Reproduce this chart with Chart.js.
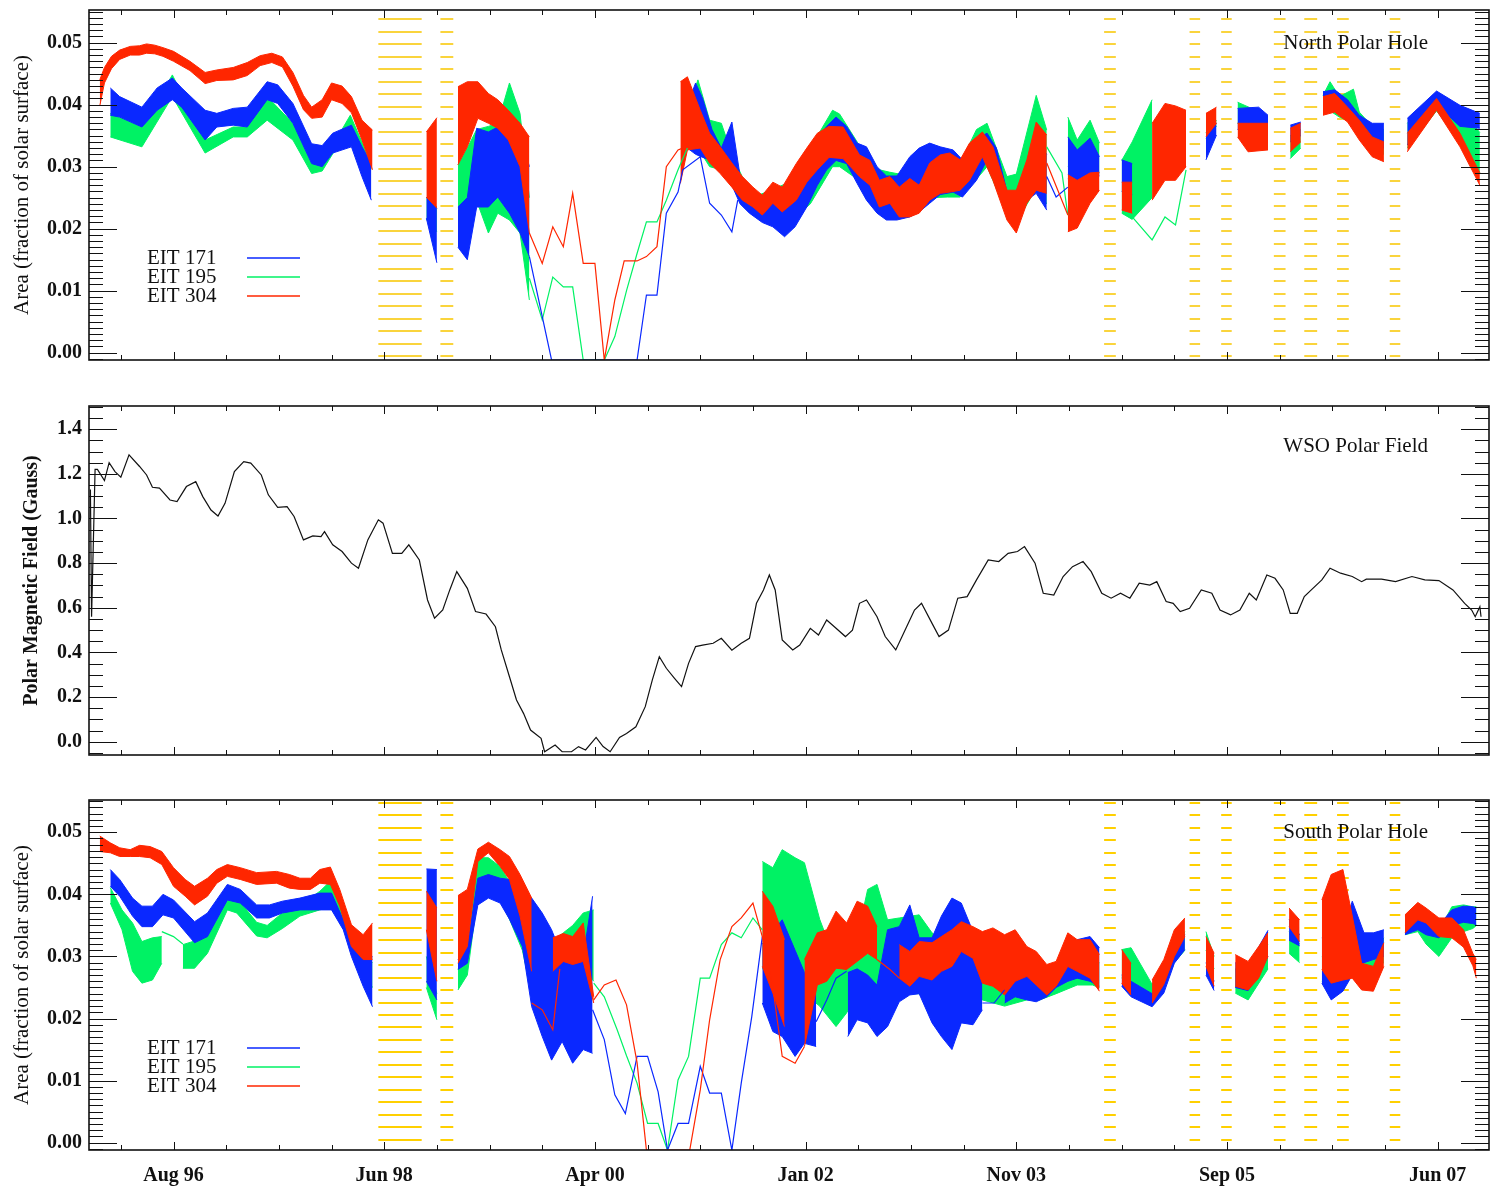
<!DOCTYPE html>
<html>
<head>
<meta charset="utf-8">
<title>Polar coronal hole area and WSO polar field</title>
<script src="https://cdn.jsdelivr.net/npm/chart.js@4.4.0/dist/chart.umd.min.js"></script>
<style>
  html, body { margin: 0; padding: 0; background: #fff; }
  body { width: 1499px; height: 1196px; position: relative; overflow: hidden; }
  canvas { position: absolute; left: 0; }
</style>
</head>
<body>
<canvas id="north" width="1499" height="380" style="top:0px"></canvas>
<canvas id="field" width="1499" height="390" style="top:390px"></canvas>
<canvas id="south" width="1499" height="411" style="top:785px"></canvas>
<script>
// ---- axes -----------------------------------------------------------------
// time in decimal years
var xMin = 1995.878, xMax = 2007.838;
var xTickValues = [1996.6, 1998.4, 2000.2, 2002.0, 2003.8, 2005.6, 2007.4];
var xTickLabels = ['Aug 96', 'Jun 98', 'Apr 00', 'Jan 02', 'Nov 03', 'Sep 05', 'Jun 07'];
var xMinorStep = 0.45;

// hole area in units of 0.001 of the solar surface
var areaTickValues = [0, 10, 20, 30, 40, 50];
var areaTickLabels = ['0.00', '0.01', '0.02', '0.03', '0.04', '0.05'];
var fieldTickValues = [0, 0.2, 0.4, 0.6, 0.8, 1.0, 1.2, 1.4];
var fieldTickLabels = ['0.0', '0.2', '0.4', '0.6', '0.8', '1.0', '1.2', '1.4'];

var legendLabels = ['EIT 171', 'EIT 195', 'EIT 304'];

// periods without EIT data [start, end]
var gaps = [[1998.35, 1998.72], [1998.88, 1998.99], [2004.55, 2004.65], [2005.28, 2005.37],
            [2005.55, 2005.64], [2006.00, 2006.10], [2006.26, 2006.37], [2006.54, 2006.64],
            [2006.99, 2007.08]];

// ---- north hole: [time, low, high] ranges (null = no data) ---------------------
var north304 = [
  [1995.97, 39.8, 44.0], [1996.01, 43.5, 46.0], [1996.07, 45.8, 47.8], [1996.14, 47.3, 48.8],
  [1996.23, 48.0, 49.4], [1996.31, 48.0, 49.5], [1996.37, 48.3, 49.8], [1996.44, 48.2, 49.6],
  [1996.51, 47.8, 49.2], [1996.60, 47.0, 48.6], [1996.74, 45.5, 47.0], [1996.87, 43.4, 45.2],
  [1996.97, 43.9, 45.6], [1997.11, 44.0, 46.0], [1997.23, 44.7, 46.8], [1997.34, 46.3, 47.9],
  [1997.44, 46.8, 48.3], [1997.53, 46.1, 47.7], [1997.62, 43.0, 45.2], [1997.71, 39.2, 41.5],
  [1997.78, 37.8, 39.6], [1997.87, 38.0, 40.8], [1997.95, 40.8, 43.5], [1998.04, 40.2, 43.0],
  [1998.12, 38.7, 41.3], [1998.21, 34.3, 37.5], [1998.30, 29.5, 35.9],
  null,
  [1998.76, 25.1, 35.6], [1998.85, 23.3, 37.9],
  null,
  [1999.03, 30.3, 42.9], [1999.11, 33.2, 43.7], [1999.20, 37.8, 43.7], [1999.29, 37.0, 41.8],
  [1999.37, 36.2, 40.8], [1999.46, 34.3, 39.1], [1999.56, 30.0, 37.0], [1999.64, 19.3, 34.8],
  null,
  [2000.93, 27.3, 43.7], [2000.99, 32.7, 44.5], [2001.10, 33.0, 39.1], [2001.18, 30.6, 35.4],
  [2001.27, 28.9, 33.2], [2001.37, 26.7, 30.6], [2001.46, 24.6, 28.4], [2001.55, 23.5, 26.7],
  [2001.63, 22.2, 25.4], [2001.72, 24.1, 27.5], [2001.80, 22.7, 26.7], [2001.92, 24.6, 30.5],
  [2002.01, 27.5, 33.0], [2002.10, 29.5, 35.4], [2002.20, 31.5, 36.5], [2002.32, 31.3, 36.4],
  [2002.46, 28.4, 31.9], [2002.55, 27.0, 31.0], [2002.63, 23.5, 27.8], [2002.72, 24.1, 28.4],
  [2002.80, 21.9, 26.7], [2002.89, 21.9, 28.1], [2002.97, 22.5, 27.0], [2003.06, 24.6, 30.6],
  [2003.15, 25.7, 31.9], [2003.23, 25.9, 32.2], [2003.32, 26.2, 31.1], [2003.40, 27.8, 33.8],
  [2003.51, 31.6, 35.6], [2003.60, 27.8, 33.2], [2003.72, 21.4, 26.2], [2003.80, 19.3, 26.2],
  [2003.89, 24.1, 31.1], [2003.97, 26.2, 37.2], [2004.06, 25.7, 35.1],
  null,
  [2004.24, 19.5, 28.7], [2004.32, 20.1, 27.8], [2004.43, 24.1, 29.0], [2004.51, 26.2, 29.1],
  null,
  [2004.70, 23.0, 27.5], [2004.79, 22.5, 27.5],
  null,
  [2004.96, 24.6, 37.0], [2005.07, 27.8, 40.2], [2005.16, 27.8, 39.8], [2005.25, 30.0, 39.1],
  null,
  [2005.42, 34.8, 38.6], [2005.51, 37.0, 39.6],
  null,
  [2005.69, 34.8, 37.0], [2005.78, 32.4, 37.0], [2005.95, 32.7, 37.0],
  null,
  [2006.14, 32.4, 36.2], [2006.23, 34.0, 37.0],
  null,
  [2006.42, 38.3, 41.3], [2006.52, 38.8, 41.8], [2006.63, 37.2, 39.6], [2006.73, 34.3, 37.5],
  [2006.84, 31.6, 34.8], [2006.94, 30.8, 34.0],
  null,
  [2007.14, 32.4, 35.4], [2007.39, 39.1, 41.0], [2007.59, 33.2, 35.4], [2007.76, 27.0, 29.0]
];

var north171 = [
  [1996.06, 38.3, 42.7], [1996.14, 38.0, 41.3], [1996.33, 36.4, 39.6], [1996.46, 39.1, 42.7],
  [1996.59, 40.8, 44.3], [1996.67, 39.6, 42.7], [1996.87, 34.3, 39.1], [1996.97, 36.4, 38.6],
  [1997.11, 36.7, 39.4], [1997.23, 36.4, 39.6], [1997.40, 40.8, 43.7], [1997.49, 40.2, 43.2],
  [1997.62, 37.0, 40.2], [1997.78, 30.5, 33.7], [1997.87, 30.0, 33.4], [1997.96, 32.2, 35.4],
  [1998.12, 33.2, 36.7], [1998.21, 28.4, 33.2], [1998.29, 24.6, 30.5],
  null,
  [1998.76, 21.7, 25.1], [1998.85, 14.5, 23.3],
  null,
  [1999.03, 17.0, 23.5], [1999.11, 15.0, 25.0], [1999.19, 23.5, 36.2], [1999.29, 23.5, 35.6],
  [1999.37, 25.1, 36.4], [1999.47, 22.5, 38.0], [1999.56, 19.3, 36.0], [1999.64, 15.5, 30.0],
  null,
  [2000.99, 33.0, 40.0], [2001.06, 32.0, 43.5], [2001.12, 31.5, 41.0], [2001.20, 31.0, 36.0],
  [2001.28, 29.0, 33.0], [2001.37, 27.0, 37.2], [2001.44, 24.0, 28.5], [2001.52, 22.5, 26.5],
  [2001.63, 21.0, 25.0], [2001.72, 20.3, 26.0], [2001.82, 18.7, 25.5], [2001.91, 20.3, 28.5],
  [2002.01, 23.5, 32.0], [2002.10, 27.0, 34.5], [2002.18, 29.5, 36.5], [2002.26, 31.0, 38.0],
  [2002.35, 30.5, 36.5], [2002.44, 27.3, 33.8], [2002.52, 24.6, 33.2], [2002.61, 22.5, 30.0],
  [2002.69, 21.4, 28.5], [2002.78, 21.4, 28.5], [2002.89, 21.9, 31.6], [2002.97, 22.7, 33.0],
  [2003.06, 24.1, 33.8], [2003.15, 25.5, 33.2], [2003.26, 25.9, 32.7], [2003.34, 25.1, 31.1],
  [2003.46, 27.8, 34.5], [2003.55, 31.1, 35.4], [2003.63, 27.8, 33.0], [2003.72, 21.9, 26.0],
  [2003.80, 20.3, 25.0], [2003.89, 24.6, 30.0], [2003.97, 25.7, 34.0], [2004.06, 23.0, 32.0],
  null,
  [2004.24, 28.0, 34.8], [2004.32, 27.0, 32.7], [2004.43, 28.5, 34.6], [2004.51, 28.5, 31.6],
  null,
  [2004.70, 26.0, 31.1], [2004.79, 25.5, 30.5],
  null,
  [2005.42, 31.1, 35.4], [2005.51, 35.1, 37.0],
  null,
  [2005.69, 36.0, 39.4], [2005.87, 36.0, 39.6], [2005.95, 35.0, 38.3],
  null,
  [2006.14, 34.0, 36.7], [2006.23, 35.0, 37.2],
  null,
  [2006.42, 39.0, 42.1], [2006.52, 39.5, 42.4], [2006.63, 38.0, 40.8], [2006.73, 35.5, 38.3],
  [2006.84, 33.5, 37.0], [2006.94, 33.0, 37.0],
  null,
  [2007.14, 33.5, 37.8], [2007.39, 40.0, 42.2], [2007.59, 36.5, 39.9], [2007.76, 36.2, 38.6]
];

var north195 = [
  [1996.06, 34.8, 38.6], [1996.33, 33.2, 36.4], [1996.59, 41.3, 44.8], [1996.87, 32.2, 34.3],
  [1997.11, 34.8, 36.4], [1997.23, 34.8, 36.4], [1997.40, 37.5, 41.3], [1997.62, 34.3, 37.0],
  [1997.78, 28.9, 30.5], [1997.87, 29.3, 30.5], [1998.11, 36.7, 38.3], [1998.29, 29.6, 30.5],
  null,
  [1998.76, 21.5, 25.0], [1998.85, 19.5, 23.5],
  null,
  [1999.03, 23.5, 30.3], [1999.11, 24.0, 33.0], [1999.19, 24.5, 36.0], [1999.29, 19.3, 36.5],
  [1999.37, 22.5, 37.0], [1999.47, 21.4, 43.5], [1999.56, 19.3, 38.6], [1999.64, 8.5, 25.0],
  null,
  [2000.99, 33.0, 39.0], [2001.08, 33.0, 44.0], [2001.18, 30.0, 37.5], [2001.28, 29.5, 37.0],
  [2001.37, 27.0, 32.0], [2001.48, 24.0, 27.5], [2001.61, 22.5, 25.5], [2001.74, 21.0, 26.5],
  [2001.86, 21.0, 27.5], [2002.04, 24.0, 33.0], [2002.23, 30.0, 39.1], [2002.29, 30.0, 38.5],
  [2002.44, 28.0, 34.0], [2002.55, 25.5, 29.0], [2002.63, 24.5, 29.5], [2002.72, 24.0, 29.1],
  [2002.89, 23.5, 28.5], [2003.06, 25.0, 31.5], [2003.21, 25.1, 32.5], [2003.32, 25.1, 30.5],
  [2003.46, 28.0, 36.0], [2003.55, 30.0, 37.0], [2003.72, 22.5, 28.4], [2003.80, 21.0, 28.8],
  [2003.97, 26.5, 41.5], [2004.06, 24.0, 35.9],
  null,
  [2004.24, 30.0, 38.0], [2004.32, 29.0, 34.3], [2004.43, 30.0, 37.5], [2004.51, 29.0, 33.8],
  null,
  [2004.70, 22.5, 31.0], [2004.79, 21.5, 34.0], [2004.96, 25.0, 40.8],
  null,
  [2005.42, 34.5, 35.5], [2005.51, 36.5, 37.5],
  null,
  [2005.69, 37.0, 40.4], [2005.81, 37.0, 39.4], [2005.95, 36.0, 37.5],
  null,
  [2006.14, 31.3, 35.0], [2006.23, 33.0, 36.0],
  null,
  [2006.42, 39.0, 41.5], [2006.48, 39.0, 43.7], [2006.56, 38.0, 41.3], [2006.68, 37.0, 42.5],
  [2006.73, 35.0, 38.8], [2006.84, 33.0, 36.5], [2006.94, 32.0, 36.0],
  null,
  [2007.14, 33.0, 37.0], [2007.39, 39.0, 42.0], [2007.59, 34.0, 39.5], [2007.76, 29.0, 35.5]
];

// single-value traces seen between the ranges: [time, value]
var north304Line = [
  [1999.64, 19.3], [1999.75, 14.4], [1999.84, 20.3], [1999.93, 17.1], [2000.01, 25.7],
  [2000.10, 14.4], [2000.20, 14.4], [2000.28, -1.2], [2000.37, 8.5], [2000.45, 14.8],
  [2000.56, 14.8], [2000.64, 15.5], [2000.73, 17.1], [2000.81, 30.0], [2000.91, 32.7],
  [2000.95, 33.0],
  null,
  [2004.06, 30.6], [2004.24, 22.2]
];
var north171Line = [
  [1999.64, 15.5], [1999.83, -1.2], [2000.56, -1.2], [2000.64, 9.3], [2000.73, 9.3],
  [2000.81, 22.5], [2000.91, 25.9], [2000.95, 29.5], [2001.10, 31.6], [2001.18, 24.1],
  [2001.28, 22.2], [2001.37, 19.5], [2001.42, 24.6],
  null,
  [2004.06, 28.4], [2004.14, 25.1], [2004.24, 26.7]
];
var north195Line = [
  [1999.64, 12.0], [1999.75, 5.3], [1999.84, 12.2], [1999.93, 10.6], [2000.01, 10.6],
  [2000.10, -1.2], [2000.28, -1.2], [2000.37, 2.6], [2000.47, 10.0], [2000.56, 16.0],
  [2000.64, 21.1], [2000.73, 21.1], [2000.81, 24.6], [2000.91, 29.5], [2000.99, 33.0],
  null,
  [2004.06, 33.2], [2004.19, 29.0], [2004.24, 22.2],
  null,
  [2004.79, 21.9], [2004.96, 18.2], [2005.07, 21.9], [2005.16, 20.6], [2005.25, 29.5]
];

// ---- south hole --------------------------------------------------------------
var south304 = [
  [1995.97, 46.9, 49.4], [1996.06, 46.7, 48.3], [1996.14, 46.1, 47.5], [1996.23, 46.1, 47.2],
  [1996.31, 46.1, 47.9], [1996.40, 45.9, 47.7], [1996.50, 44.8, 46.9], [1996.60, 41.3, 44.3],
  [1996.70, 39.7, 42.4], [1996.78, 38.3, 41.3], [1996.89, 39.7, 42.6], [1996.97, 41.8, 44.0],
  [1997.06, 42.9, 44.8], [1997.17, 42.4, 44.3], [1997.31, 41.6, 43.5], [1997.48, 41.8, 43.7],
  [1997.59, 41.0, 43.2], [1997.68, 40.8, 42.6], [1997.77, 40.8, 42.6], [1997.85, 41.8, 44.0],
  [1997.94, 41.6, 44.4], [1998.02, 38.1, 40.8], [1998.12, 31.6, 35.1], [1998.22, 29.5, 33.5],
  [1998.30, 29.5, 35.4],
  null,
  [1998.76, 34.3, 40.5], [1998.85, 26.0, 37.8],
  null,
  [1999.03, 28.9, 39.8], [1999.11, 31.6, 40.8], [1999.20, 45.3, 47.3], [1999.29, 46.7, 48.4],
  [1999.39, 44.5, 47.2], [1999.47, 42.4, 46.1], [1999.56, 36.5, 43.2], [1999.66, 27.6, 39.4],
  null,
  [1999.84, 27.6, 33.0], [1999.93, 29.2, 33.7], [2000.01, 28.7, 33.2], [2000.10, 29.2, 35.4],
  [2000.19, 22.5, 23.5],
  null,
  [2001.63, 28.4, 40.5], [2001.72, 24.1, 38.1], [2001.82, 18.7, 32.7],
  null,
  [2001.99, 15.5, 29.5], [2002.10, 25.4, 33.8], [2002.18, 26.0, 34.3], [2002.26, 28.1, 37.3],
  [2002.35, 27.9, 35.4], [2002.44, 29.2, 38.9], [2002.53, 30.5, 38.1], [2002.61, 29.5, 34.8],
  null,
  [2002.80, 26.5, 31.9], [2002.89, 25.2, 30.8], [2002.97, 26.8, 32.4], [2003.08, 26.2, 32.2],
  [2003.16, 27.6, 33.2], [2003.25, 28.4, 34.3], [2003.33, 30.8, 35.6], [2003.43, 29.7, 34.8],
  [2003.51, 25.7, 34.0], [2003.60, 25.2, 34.6], [2003.70, 23.8, 33.5], [2003.79, 26.0, 34.3],
  [2003.89, 26.8, 31.6], [2003.97, 25.4, 30.8], [2004.06, 23.8, 28.7], [2004.14, 25.2, 29.2],
  [2004.24, 28.4, 33.8], [2004.32, 27.6, 32.7], [2004.43, 26.5, 32.7], [2004.51, 24.4, 30.3],
  null,
  [2004.70, 25.7, 31.1], [2004.78, 23.8, 28.9],
  null,
  [2004.96, 22.5, 26.2], [2005.06, 25.5, 29.5], [2005.15, 30.0, 34.3], [2005.24, 33.2, 36.2],
  null,
  [2005.42, 28.4, 33.2], [2005.49, 25.2, 30.5],
  null,
  [2005.67, 25.2, 30.3], [2005.78, 24.6, 29.2], [2005.87, 26.5, 31.6], [2005.95, 30.0, 33.8],
  null,
  [2006.13, 34.8, 37.8], [2006.22, 32.4, 35.9],
  null,
  [2006.41, 27.9, 39.1], [2006.49, 25.7, 43.2], [2006.59, 26.2, 44.0], [2006.67, 26.5, 36.5],
  [2006.75, 24.6, 28.9], [2006.85, 24.4, 28.4], [2006.94, 28.4, 32.2],
  null,
  [2007.12, 33.8, 36.7], [2007.23, 35.9, 38.7], [2007.30, 35.4, 37.8], [2007.41, 33.2, 36.2],
  [2007.52, 33.0, 36.2], [2007.62, 31.5, 34.3], [2007.70, 28.5, 30.5], [2007.73, 26.5, 29.5]
];

var south171 = [
  [1996.06, 41.3, 44.0], [1996.14, 39.7, 42.4], [1996.25, 36.5, 39.4], [1996.33, 34.8, 38.1],
  [1996.42, 34.8, 38.1], [1996.51, 36.7, 40.0], [1996.60, 36.2, 39.1], [1996.78, 32.2, 35.6],
  [1996.89, 33.2, 37.0], [1997.06, 39.1, 41.6], [1997.17, 38.6, 40.8], [1997.31, 36.2, 38.3],
  [1997.42, 36.2, 38.3], [1997.53, 37.0, 38.9], [1997.68, 37.5, 39.4], [1997.85, 37.5, 40.2],
  [1997.95, 37.5, 40.2], [1998.05, 34.3, 35.9], [1998.12, 30.0, 32.2], [1998.22, 25.2, 29.5],
  [1998.30, 21.9, 30.0],
  null,
  [1998.76, 26.0, 44.1], [1998.85, 23.0, 44.0],
  null,
  [1999.03, 27.9, 29.5], [1999.11, 28.9, 31.6], [1999.20, 38.3, 42.6], [1999.29, 39.4, 43.2],
  [1999.39, 38.6, 42.6], [1999.47, 36.0, 42.4], [1999.58, 31.6, 40.8], [1999.66, 21.9, 39.4],
  [1999.75, 17.1, 37.0], [1999.83, 13.3, 34.3], [1999.92, 16.3, 30.0], [2000.01, 12.8, 29.0],
  [2000.10, 15.0, 30.0], [2000.18, 14.4, 39.7],
  null,
  [2001.63, 22.5, 32.0], [2001.72, 17.9, 34.0], [2001.80, 17.1, 35.9], [2001.91, 13.9, 31.0],
  [2001.99, 16.0, 27.4], [2002.09, 15.5, 25.0],
  null,
  [2002.36, 17.1, 27.4], [2002.44, 19.8, 28.0], [2002.53, 19.3, 27.0], [2002.61, 17.1, 25.4],
  [2002.70, 18.7, 34.3], [2002.80, 22.7, 34.8], [2002.89, 23.8, 38.3], [2002.97, 24.0, 33.0],
  [2003.08, 19.3, 33.0], [2003.16, 17.1, 36.5], [2003.25, 15.0, 39.4], [2003.33, 19.3, 38.6],
  [2003.43, 19.0, 34.0], [2003.51, 21.4, 30.0],
  null,
  [2003.70, 22.5, 26.2], [2003.79, 23.5, 27.9], [2003.89, 23.0, 27.5], [2003.97, 22.7, 25.7],
  [2004.06, 23.5, 28.4], [2004.14, 25.0, 28.9], [2004.24, 26.0, 28.4], [2004.32, 26.5, 32.7],
  [2004.43, 26.0, 33.2], [2004.51, 25.2, 31.4],
  null,
  [2004.70, 25.2, 27.0], [2004.78, 23.5, 26.0], [2004.96, 21.9, 24.0], [2005.06, 24.1, 27.0],
  [2005.15, 28.9, 31.5], [2005.24, 31.1, 33.5],
  null,
  [2005.42, 27.0, 29.0], [2005.49, 24.5, 26.0],
  null,
  [2005.67, 25.0, 29.0], [2005.78, 24.5, 28.0], [2005.87, 27.0, 31.5], [2005.95, 30.0, 34.2],
  null,
  [2006.13, 32.6, 36.0], [2006.22, 31.7, 33.5],
  null,
  [2006.41, 25.7, 33.0], [2006.49, 23.0, 33.0], [2006.59, 24.4, 34.0], [2006.67, 27.0, 38.9],
  [2006.77, 29.0, 33.8], [2006.85, 29.5, 33.8], [2006.94, 30.0, 34.3],
  null,
  [2007.12, 33.5, 36.5], [2007.23, 34.3, 37.0], [2007.30, 33.5, 36.0], [2007.41, 33.0, 35.0],
  [2007.52, 35.0, 37.5], [2007.62, 35.5, 38.1], [2007.70, 35.3, 38.0], [2007.73, 35.1, 37.8]
];

var south195 = [
  [1996.06, 38.6, 41.1], [1996.16, 34.3, 37.5], [1996.25, 27.6, 35.4], [1996.33, 25.7, 32.4],
  [1996.42, 26.2, 33.0], [1996.50, 28.9, 33.2],
  null,
  [1996.68, 28.1, 31.9], [1996.78, 28.1, 32.5], [1996.89, 30.5, 35.0], [1997.06, 37.5, 40.0],
  [1997.14, 37.0, 39.5], [1997.31, 33.3, 35.5], [1997.40, 33.0, 35.0], [1997.53, 34.5, 37.0],
  [1997.68, 36.5, 38.2], [1997.85, 37.5, 40.5], [1997.95, 38.0, 42.3], [1998.05, 35.5, 38.0],
  [1998.12, 31.0, 33.0], [1998.30, 25.0, 29.0],
  null,
  [1998.76, 25.0, 30.0], [1998.85, 19.8, 24.0],
  null,
  [1999.03, 24.6, 27.9], [1999.11, 27.0, 31.5], [1999.20, 40.0, 45.9], [1999.29, 40.0, 45.9],
  [1999.39, 39.0, 44.5], [1999.47, 36.0, 42.0], [1999.58, 31.0, 39.0], [1999.66, 24.0, 33.0],
  null,
  [1999.84, 29.0, 32.5], [1999.93, 27.0, 33.8], [2000.01, 26.0, 35.0], [2000.10, 28.0, 37.0],
  [2000.19, 26.0, 37.5],
  null,
  [2001.63, 28.0, 45.3], [2001.72, 27.0, 44.3], [2001.80, 26.0, 47.2], [2001.91, 25.0, 45.9],
  [2001.99, 24.0, 45.1], [2002.12, 22.0, 36.0], [2002.26, 18.7, 29.0], [2002.35, 20.9, 29.0],
  [2002.44, 24.0, 33.0], [2002.53, 26.0, 40.8], [2002.61, 25.0, 41.6], [2002.70, 24.0, 35.9],
  [2002.80, 24.0, 36.2], [2002.97, 24.0, 36.7], [2003.08, 24.0, 33.8], [2003.25, 23.0, 31.0],
  [2003.51, 23.0, 31.0], [2003.70, 22.0, 29.0], [2003.89, 23.0, 28.0], [2004.00, 23.0, 28.0],
  [2004.14, 24.0, 29.0], [2004.32, 25.4, 31.0], [2004.45, 25.4, 30.0], [2004.51, 25.0, 29.0],
  null,
  [2004.70, 26.5, 31.1], [2004.78, 25.0, 31.4], [2004.96, 22.5, 25.5], [2005.06, 25.0, 28.0],
  [2005.15, 29.0, 31.5], [2005.24, 31.0, 34.0],
  null,
  [2005.42, 31.0, 34.0], [2005.49, 28.0, 30.0],
  null,
  [2005.67, 24.1, 28.0], [2005.78, 23.0, 27.0], [2005.95, 28.0, 32.0],
  null,
  [2006.13, 30.5, 34.0], [2006.22, 29.0, 32.0],
  null,
  [2006.41, 26.0, 30.0], [2006.67, 28.0, 33.0], [2006.77, 28.0, 30.0], [2006.85, 28.0, 30.0],
  [2006.94, 29.0, 33.0],
  null,
  [2007.12, 33.5, 35.0], [2007.23, 34.0, 36.0], [2007.30, 32.0, 35.0], [2007.41, 30.0, 34.0],
  [2007.52, 33.0, 38.0], [2007.62, 34.0, 38.3], [2007.70, 34.5, 38.0], [2007.73, 35.0, 38.0]
];

var south304Line = [
  [1999.66, 22.5], [1999.75, 21.4], [1999.84, 18.2], [1999.90, 28.0],
  null,
  [2000.19, 23.0], [2000.28, 25.4], [2000.38, 26.2], [2000.47, 22.2], [2000.56, 12.9],
  [2000.64, -1.2], [2001.01, -1.2], [2001.10, 8.5], [2001.18, 19.8], [2001.27, 29.5],
  [2001.37, 34.8], [2001.45, 36.2], [2001.55, 38.6], [2001.63, 33.2], [2001.72, 25.0],
  [2001.80, 13.9], [2001.91, 12.8], [2001.99, 15.5],
  null,
  [2002.61, 29.5], [2002.72, 27.9], [2002.80, 26.5]
];
var south171Line = [
  [2000.18, 21.4], [2000.28, 16.6], [2000.37, 7.7], [2000.46, 4.7], [2000.56, 13.9],
  [2000.65, 13.9], [2000.74, 8.2], [2000.82, -1.2], [2000.91, 3.1], [2001.00, 3.1],
  [2001.10, 12.3], [2001.18, 8.0], [2001.28, 8.0], [2001.37, -1.2], [2001.45, 9.6],
  [2001.54, 20.3], [2001.63, 33.2],
  null,
  [2002.09, 19.5], [2002.18, 23.0], [2002.26, 26.5], [2002.35, 27.6],
  null,
  [2003.51, 22.5], [2003.61, 22.5], [2003.70, 24.6]
];
var south195Line = [
  [1996.50, 34.0], [1996.60, 33.2], [1996.68, 32.0],
  null,
  [2000.19, 25.7], [2000.28, 23.5], [2000.39, 18.2], [2000.47, 14.0], [2000.56, 9.6],
  [2000.65, 3.1], [2000.74, 3.1], [2000.82, -1.2], [2000.91, 10.1], [2001.00, 13.9],
  [2001.10, 26.5], [2001.18, 26.5], [2001.28, 31.9], [2001.37, 33.8], [2001.45, 33.0],
  [2001.55, 36.2], [2001.63, 34.3]
];

// ---- WSO polar field (Gauss): [time, value] -----------------------------------
var wsoField = [
  [1995.89, 1.13], [1995.90, 0.56], [1995.93, 1.22], [1995.95, 1.22], [1996.01, 1.17],
  [1996.05, 1.25], [1996.10, 1.21], [1996.15, 1.185], [1996.22, 1.285], [1996.31, 1.233],
  [1996.37, 1.195], [1996.42, 1.14], [1996.48, 1.136], [1996.57, 1.083], [1996.63, 1.076],
  [1996.71, 1.143], [1996.79, 1.165], [1996.85, 1.098], [1996.92, 1.038], [1996.98, 1.011],
  [1997.04, 1.068], [1997.12, 1.21], [1997.20, 1.255], [1997.26, 1.248], [1997.35, 1.195],
  [1997.41, 1.106], [1997.49, 1.05], [1997.57, 1.053], [1997.63, 1.009], [1997.71, 0.904],
  [1997.79, 0.922], [1997.86, 0.919], [1997.89, 0.941], [1997.96, 0.882], [1998.04, 0.852],
  [1998.12, 0.80], [1998.18, 0.777], [1998.26, 0.904], [1998.35, 0.994], [1998.39, 0.979],
  [1998.47, 0.844], [1998.55, 0.844], [1998.61, 0.882], [1998.70, 0.814], [1998.77, 0.635],
  [1998.83, 0.553], [1998.90, 0.59], [1998.96, 0.68], [1999.02, 0.762], [1999.11, 0.687],
  [1999.18, 0.583], [1999.27, 0.572], [1999.35, 0.515], [1999.40, 0.411], [1999.47, 0.291],
  [1999.53, 0.187], [1999.59, 0.127], [1999.65, 0.052], [1999.74, 0.015], [1999.77, -0.045],
  [1999.86, -0.015], [1999.92, -0.045], [2000.00, -0.045], [2000.06, -0.022], [2000.12, -0.037],
  [2000.21, 0.019], [2000.27, -0.022], [2000.33, -0.045], [2000.41, 0.019], [2000.47, 0.037],
  [2000.55, 0.067], [2000.63, 0.157], [2000.69, 0.276], [2000.75, 0.381], [2000.81, 0.329],
  [2000.88, 0.284], [2000.94, 0.247], [2001.00, 0.351], [2001.06, 0.426], [2001.12, 0.433],
  [2001.21, 0.441], [2001.28, 0.463], [2001.37, 0.41], [2001.45, 0.441], [2001.52, 0.463],
  [2001.58, 0.62], [2001.64, 0.68], [2001.69, 0.747], [2001.74, 0.68], [2001.80, 0.456],
  [2001.89, 0.411], [2001.95, 0.433], [2002.04, 0.508], [2002.11, 0.478], [2002.18, 0.545],
  [2002.26, 0.508], [2002.34, 0.471], [2002.40, 0.50], [2002.46, 0.62], [2002.52, 0.635],
  [2002.61, 0.56], [2002.68, 0.471], [2002.77, 0.411], [2002.85, 0.50], [2002.93, 0.59],
  [2002.99, 0.62], [2003.08, 0.53], [2003.14, 0.471], [2003.22, 0.50], [2003.30, 0.643],
  [2003.38, 0.65], [2003.46, 0.725], [2003.56, 0.814], [2003.65, 0.807], [2003.73, 0.844],
  [2003.81, 0.852], [2003.87, 0.874], [2003.96, 0.80], [2004.03, 0.665], [2004.12, 0.657],
  [2004.20, 0.74], [2004.28, 0.784], [2004.37, 0.807], [2004.44, 0.762], [2004.53, 0.665],
  [2004.61, 0.643], [2004.69, 0.665], [2004.77, 0.643], [2004.85, 0.71], [2004.94, 0.702],
  [2005.00, 0.717], [2005.08, 0.628], [2005.14, 0.62], [2005.20, 0.583], [2005.28, 0.598],
  [2005.38, 0.68], [2005.47, 0.665], [2005.54, 0.59], [2005.63, 0.568], [2005.71, 0.59],
  [2005.79, 0.665], [2005.85, 0.635], [2005.94, 0.747], [2006.01, 0.732], [2006.08, 0.68],
  [2006.14, 0.575], [2006.20, 0.575], [2006.26, 0.65], [2006.32, 0.68], [2006.41, 0.725],
  [2006.48, 0.777], [2006.57, 0.755], [2006.67, 0.74], [2006.75, 0.717], [2006.79, 0.728],
  [2006.92, 0.728], [2007.04, 0.717], [2007.18, 0.74], [2007.29, 0.725], [2007.41, 0.722],
  [2007.53, 0.68], [2007.63, 0.62], [2007.69, 0.59], [2007.72, 0.56], [2007.76, 0.605],
  [2007.77, 0.56]
];

// ---- drawing ------------------------------------------------------------------
var FONT = '"Liberation Serif", "Times New Roman", Times, serif';
var INK = '#111';
var BLUE = 'rgb(10,40,255)';
var GREEN = 'rgb(0,242,100)';
var RED = 'rgb(255,38,0)';

function toXY(rows, k) {
  var last = null;
  return rows.map(function (r) {
    if (r === null) return { x: last, y: null };
    last = r[0];
    return { x: r[0], y: r[k] };
  });
}

function lineSet(data, color, width, fill) {
  return {
    data: data, borderColor: color, backgroundColor: color, borderWidth: width,
    pointRadius: 0, tension: 0, spanGaps: false, fill: fill
  };
}

// hatched columns for the data gaps
var gapPlugin = {
  id: 'gaps',
  beforeDatasetsDraw: function (chart, args, o) {
    if (!o.show) return;
    var ctx = chart.ctx, a = chart.chartArea, x = chart.scales.x;
    ctx.save();
    ctx.strokeStyle = o.color;
    ctx.lineWidth = 2;
    ctx.beginPath();
    gaps.forEach(function (g) {
      var x0 = x.getPixelForValue(g[0]), x1 = x.getPixelForValue(g[1]);
      for (var py = a.top + o.start; py < a.bottom - 2; py += 12.47) {
        ctx.moveTo(x0, Math.round(py)); ctx.lineTo(x1, Math.round(py));
      }
    });
    ctx.stroke();
    ctx.restore();
  }
};

// box with inward ticks on all four sides
var framePlugin = {
  id: 'frame',
  afterDatasetsDraw: function (chart, args, o) {
    var ctx = chart.ctx, a = chart.chartArea, x = chart.scales.x, y = chart.scales.y;
    ctx.save();
    ctx.strokeStyle = INK;
    ctx.lineWidth = 1;
    ctx.beginPath();
    for (var k = -4; k < 40; k++) {
      var v = xTickValues[0] + k * xMinorStep;
      if (v < xMin || v > xMax) continue;
      var major = k % 4 === 0;
      var px = Math.round(x.getPixelForValue(v)) + 0.5;
      var len = major ? 8 : 5;
      ctx.moveTo(px, a.bottom); ctx.lineTo(px, a.bottom - len);
      ctx.moveTo(px, a.top); ctx.lineTo(px, a.top + len);
    }
    for (var i = Math.ceil(y.min / o.minor); i * o.minor <= y.max + 1e-9; i++) {
      var yv = i * o.minor;
      var isMajor = o.majors.some(function (t) { return Math.abs(t - yv) < 1e-6; });
      var py = Math.round(y.getPixelForValue(yv)) + 0.5;
      var l = isMajor ? 28 : 14;
      ctx.moveTo(a.left, py); ctx.lineTo(a.left + l, py);
      ctx.moveTo(a.right, py); ctx.lineTo(a.right - l, py);
    }
    ctx.stroke();
    ctx.lineWidth = 1.6;
    ctx.strokeRect(a.left, a.top, a.right - a.left, a.bottom - a.top);
    ctx.restore();
  }
};

var notesPlugin = {
  id: 'notes',
  afterDraw: function (chart, args, o) {
    var ctx = chart.ctx, a = chart.chartArea;
    ctx.save();
    ctx.fillStyle = INK;
    ctx.font = '21px ' + FONT;
    ctx.textBaseline = 'middle';
    if (o.name) {
      ctx.textAlign = 'right';
      ctx.fillText(o.name, a.right - 61, a.top + o.nameDy);
    }
    if (o.legend) {
      var colors = [BLUE, GREEN, RED];
      legendLabels.forEach(function (label, i) {
        var yy = a.top + 248 + i * 19;
        ctx.textAlign = 'left';
        ctx.fillText(label, a.left + 58, yy);
        ctx.strokeStyle = colors[i];
        ctx.lineWidth = 1.5;
        ctx.beginPath();
        ctx.moveTo(a.left + 158, yy); ctx.lineTo(a.left + 211, yy);
        ctx.stroke();
      });
    }
    ctx.restore();
  }
};

function makeChart(id, datasets, p) {
  return new Chart(document.getElementById(id), {
    type: 'line',
    data: { datasets: datasets },
    options: {
      responsive: false,
      animation: false,
      devicePixelRatio: 1,
      layout: { padding: { top: p.padTop, right: 10, left: 0, bottom: 0 } },
      plugins: {
        legend: { display: false },
        tooltip: { enabled: false },
        gaps: { show: p.gaps, start: p.gapStart, color: p.gapColor },
        frame: { minor: p.yMinor, majors: p.yTicks },
        notes: { name: p.name, nameDy: p.nameDy, legend: p.legend }
      },
      scales: {
        x: {
          type: 'linear', min: xMin, max: xMax,
          grid: { display: false, drawTicks: false },
          border: { display: false },
          afterBuildTicks: function (s) { s.ticks = xTickValues.map(function (v) { return { value: v }; }); },
          ticks: {
            display: p.xLabels, autoSkip: false, maxRotation: 0, padding: 14, color: INK,
            font: { family: FONT, size: 20, weight: 'bold' },
            callback: function (v) { return xTickLabels[xTickValues.indexOf(v)]; }
          },
          afterFit: function (s) { s.height = p.xAxisH; s.paddingLeft = 0; s.paddingRight = 0; }
        },
        y: {
          type: 'linear', min: p.yMin, max: p.yMax,
          grid: { display: false, drawTicks: false },
          border: { display: false },
          afterBuildTicks: function (s) { s.ticks = p.yTicks.map(function (v) { return { value: v }; }); },
          ticks: {
            padding: 7, color: INK,
            font: { family: FONT, size: 20, weight: 'bold' },
            callback: function (v) { return p.yLabels[p.yTicks.indexOf(v)]; }
          },
          title: {
            display: true, text: p.title, color: INK,
            font: { family: FONT, size: p.titleSize, weight: p.titleWeight },
            padding: { top: p.titlePad, bottom: 0 }
          },
          afterFit: function (s) { s.width = 89; s.paddingTop = 0; s.paddingBottom = 0; }
        }
      }
    },
    plugins: [gapPlugin, framePlugin, notesPlugin]
  });
}

function holeSets(r304, r171, r195, l304, l171, l195) {
  return [
    lineSet(toXY(l304, 1), RED, 1.2, false),
    lineSet(toXY(l171, 1), BLUE, 1.2, false),
    lineSet(toXY(l195, 1), GREEN, 1.2, false),
    lineSet(toXY(r304, 2), RED, 1, '+1'),
    lineSet(toXY(r304, 1), RED, 1, false),
    lineSet(toXY(r171, 2), BLUE, 1, '+1'),
    lineSet(toXY(r171, 1), BLUE, 1, false),
    lineSet(toXY(r195, 2), GREEN, 1, '+1'),
    lineSet(toXY(r195, 1), GREEN, 1, false)
  ];
}

makeChart('north', holeSets(north304, north171, north195, north304Line, north171Line, north195Line), {
  padTop: 10, xAxisH: 20, xLabels: false,
  yMin: -1.178, yMax: 55.27, yTicks: areaTickValues, yLabels: areaTickLabels, yMinor: 1,
  title: 'Area (fraction of solar surface)', titleSize: 21, titleWeight: 'normal', titlePad: 10,
  gaps: true, gapStart: 9.3, gapColor: 'rgb(250,212,60)',
  name: 'North Polar Hole', nameDy: 33, legend: true
});

makeChart('field', [lineSet(toXY(wsoField, 1), '#111', 1.2, false)], {
  padTop: 16, xAxisH: 25, xLabels: false,
  yMin: -0.0596, yMax: 1.504, yTicks: fieldTickValues, yLabels: fieldTickLabels, yMinor: 0.05,
  title: 'Polar Magnetic Field (Gauss)', titleSize: 20, titleWeight: 'bold', titlePad: 20,
  gaps: false, name: 'WSO Polar Field', nameDy: 40, legend: false
});

makeChart('south', holeSets(south304, south171, south195, south304Line, south171Line, south195Line), {
  padTop: 15, xAxisH: 46, xLabels: true,
  yMin: -1.176, yMax: 55.2, yTicks: areaTickValues, yLabels: areaTickLabels, yMinor: 1,
  title: 'Area (fraction of solar surface)', titleSize: 21, titleWeight: 'normal', titlePad: 10,
  gaps: true, gapStart: 3, gapColor: 'rgb(255,208,0)',
  name: 'South Polar Hole', nameDy: 32, legend: true
});
</script>
</body>
</html>
